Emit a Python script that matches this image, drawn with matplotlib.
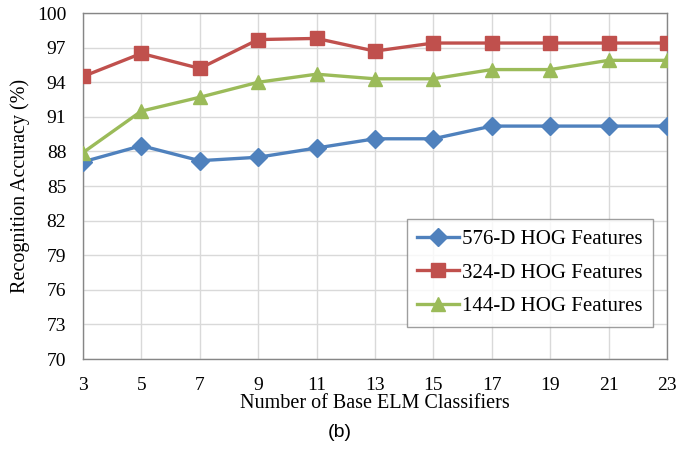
import numpy as np
import matplotlib.pyplot as plt

classifiers = [3, 5, 7, 9, 11, 13, 15, 17, 19, 21, 23]
hog_576 = [87.1, 88.5, 87.2, 87.5, 88.3, 89.1, 89.1, 90.2, 90.2, 90.2, 90.2]
hog_324 = [94.5, 96.5, 95.2, 97.7, 97.8, 96.7, 97.4, 97.4, 97.4, 97.4, 97.4]
hog_144 = [87.9, 91.5, 92.7, 94.0, 94.7, 94.3, 94.3, 95.1, 95.1, 95.9, 95.9]
y_ticks = [70, 73, 76, 79, 82, 85, 88, 91, 94, 97, 100]

plt.rcParams['font.family'] = ['Liberation Serif', 'DejaVu Serif']

fig = plt.figure(figsize=(6.79, 4.5), dpi=100)
ax = fig.add_axes([0.1222, 0.202, 0.86, 0.769])

ax.plot(classifiers, hog_576, color='#4F81BD', marker='D', markersize=9, linewidth=2.4,
        label='576-D HOG Features', zorder=3)
ax.plot(classifiers, hog_324, color='#C0504D', marker='s', markersize=9.5, linewidth=2.4,
        label='324-D HOG Features', zorder=3)
ax.plot(classifiers, hog_144, color='#9BBB59', marker='^', markersize=10.5, linewidth=2.4,
        label='144-D HOG Features', zorder=3)

ax.set_xlim(3, 23)
ax.set_ylim(70, 100)
ax.set_xticks(classifiers)
ax.set_yticks(y_ticks)
ax.grid(True, color='#d9d9d9', linewidth=1, zorder=0)
for s in ax.spines.values():
    s.set_color('#868686')
    s.set_linewidth(1)
ax.tick_params(length=0, labelsize=14)
ax.tick_params(axis='x', pad=13)
ax.tick_params(axis='y', pad=12)

ax.set_xlabel('Number of Base ELM Classifiers', fontsize=14.5, labelpad=0)
ax.set_ylabel('Recognition Accuracy (%)', fontsize=14.5, labelpad=5)

leg = ax.legend(loc='upper left', bbox_to_anchor=(0.555, 0.405), fontsize=15, frameon=True,
                fancybox=False, edgecolor='#868686', handlelength=2.0, labelspacing=0.68,
                borderpad=0.5, handletextpad=0.15, borderaxespad=0)
leg.get_frame().set_linewidth(1)

fig.text(0.5, 0.028, '(b)', fontsize=14, family='Liberation Sans', ha='center')

fig.savefig('out.png', dpi=100)
